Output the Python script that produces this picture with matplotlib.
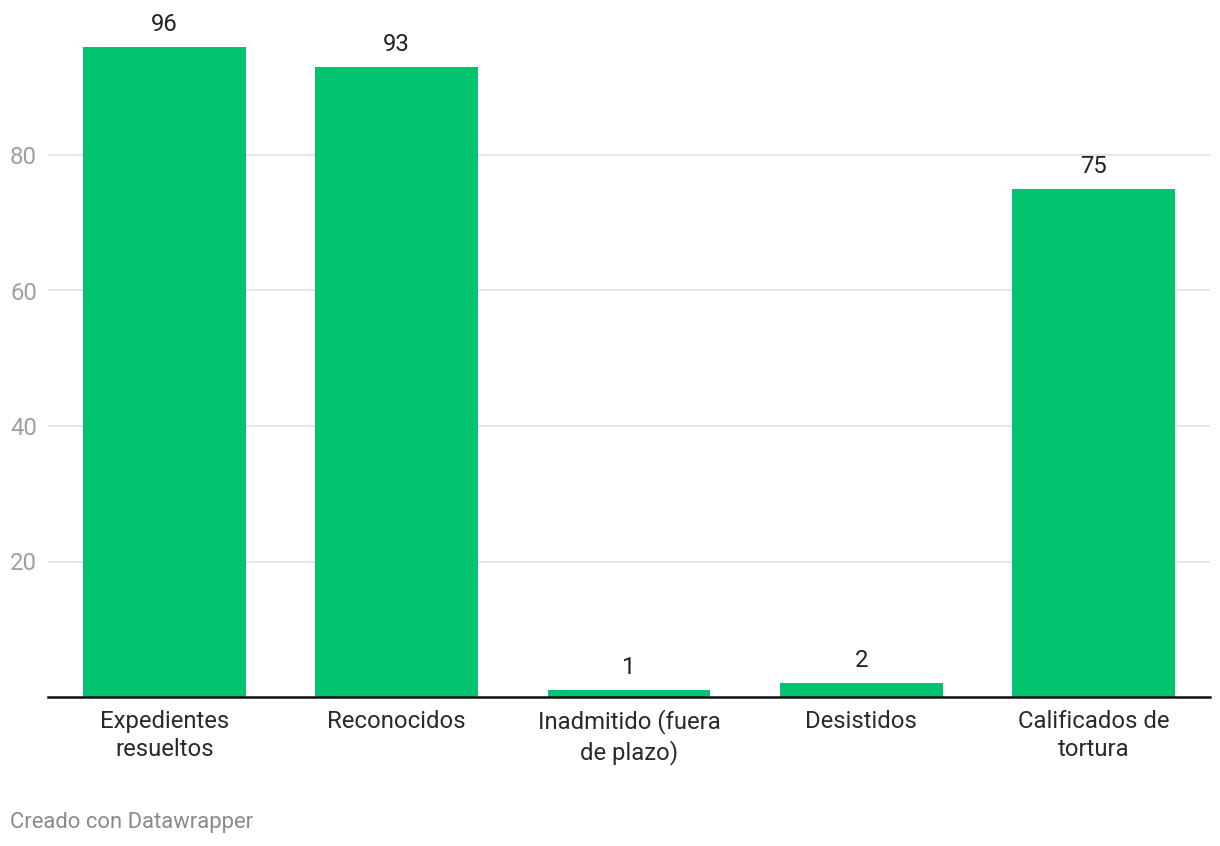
import matplotlib.pyplot as plt

plt.rcParams['font.family'] = ['Roboto', 'DejaVu Sans']

# data
categories = ['Expedientes\nresueltos', 'Reconocidos', 'Inadmitido (fuera\nde plazo)',
              'Desistidos', 'Calificados de\ntortura']
values = [96, 93, 1, 2, 75]
yticks = [20, 40, 60, 80]

bar_colour = '#00c46f'
fs = 17.2

fig = plt.figure(figsize=(12.2, 8.46), dpi=100)
ax = fig.add_axes([48/1220, 149/846, (1210-48)/1220, (846-149-19.5)/846])

x = list(range(len(values)))
ax.bar(x, values, width=0.70, color=bar_colour, zorder=2)

# value labels on top of the bars
for xi, v in zip(x, values):
    ax.annotate(str(v), (xi, v), xytext=(0, 11.5), textcoords='offset points',
                ha='center', va='baseline', fontsize=fs, color='#222222')

ax.set_xlim(-0.5, len(values) - 0.5)
ax.set_ylim(0, 100)
ax.set_yticks(yticks)
ax.set_xticks(x)
ax.set_xticklabels(categories, fontsize=fs, color='#2a2a2a', linespacing=1.3)
ax.tick_params(axis='x', length=0, pad=9)
ax.tick_params(axis='y', length=0, pad=8, labelsize=fs, labelcolor='#a0a0a0')

ax.grid(axis='y', color='#e2e2e2', linewidth=1.2, zorder=0)
for s in ['top', 'right', 'left']:
    ax.spines[s].set_visible(False)
ax.spines['bottom'].set_color('#111111')
ax.spines['bottom'].set_linewidth(1.8)
ax.spines['bottom'].set_zorder(3)

fig.text(10/1220, 1 - 822/846, 'Creado con Datawrapper', fontsize=15.8, color='#8a8a8a',
         ha='left', va='center')

fig.savefig('out.png', dpi=100)
